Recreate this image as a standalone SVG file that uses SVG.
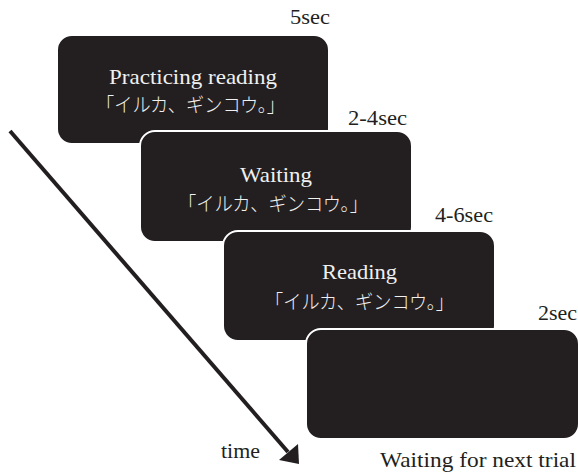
<svg xmlns="http://www.w3.org/2000/svg" width="578" height="472" viewBox="0 0 578 472">
<style>
.box{fill:#231f20;stroke:#ffffff;stroke-width:2}
.lbl{font-family:"Liberation Serif",serif;font-size:21px;fill:#231f20}
.en{font-family:"Liberation Serif",serif;font-size:21px;fill:#f0f0f0}
.jp{font-family:"Noto Sans CJK JP",sans-serif;font-size:19.5px;font-weight:300;fill:#f0f0f0}
</style>
<rect width="578" height="472" fill="#ffffff"/>
<g id="connectors">
<line x1="10" y1="131" x2="288" y2="452" stroke="#231f20" stroke-width="4"/>
<polygon points="299,464 298,444 279,460" fill="#231f20"/>
</g>
<g id="node1">
<rect class="box" x="57" y="35" width="272" height="109" rx="15"/>
<text class="en" x="109" y="84" textLength="168" lengthAdjust="spacingAndGlyphs">Practicing reading</text>
<text class="jp" x="96" y="112" textLength="189" lengthAdjust="spacingAndGlyphs">「イルカ、ギンコウ。」</text>
<text class="lbl" x="290" y="24" textLength="40" lengthAdjust="spacingAndGlyphs">5sec</text>
</g>
<g id="node2">
<rect class="box" x="140" y="131" width="272" height="111" rx="15"/>
<text class="en" x="240" y="182" textLength="72" lengthAdjust="spacingAndGlyphs">Waiting</text>
<text class="jp" x="178" y="211" textLength="190" lengthAdjust="spacingAndGlyphs">「イルカ、ギンコウ。」</text>
<text class="lbl" x="348" y="125" textLength="59" lengthAdjust="spacingAndGlyphs">2-4sec</text>
</g>
<g id="node3">
<rect class="box" x="223" y="231" width="272" height="110" rx="15"/>
<text class="en" x="322" y="279" textLength="75" lengthAdjust="spacingAndGlyphs">Reading</text>
<text class="jp" x="265" y="309" textLength="189" lengthAdjust="spacingAndGlyphs">「イルカ、ギンコウ。」</text>
<text class="lbl" x="435" y="222" textLength="58" lengthAdjust="spacingAndGlyphs">4-6sec</text>
</g>
<g id="node4">
<rect class="box" x="306" y="329" width="273" height="110" rx="15"/>
<text class="lbl" x="538" y="320" textLength="39" lengthAdjust="spacingAndGlyphs">2sec</text>
<text class="lbl" x="380" y="467" textLength="196" lengthAdjust="spacingAndGlyphs">Waiting for next trial</text>
</g>
<text class="lbl" x="221" y="458" textLength="39" lengthAdjust="spacingAndGlyphs">time</text>
</svg>
